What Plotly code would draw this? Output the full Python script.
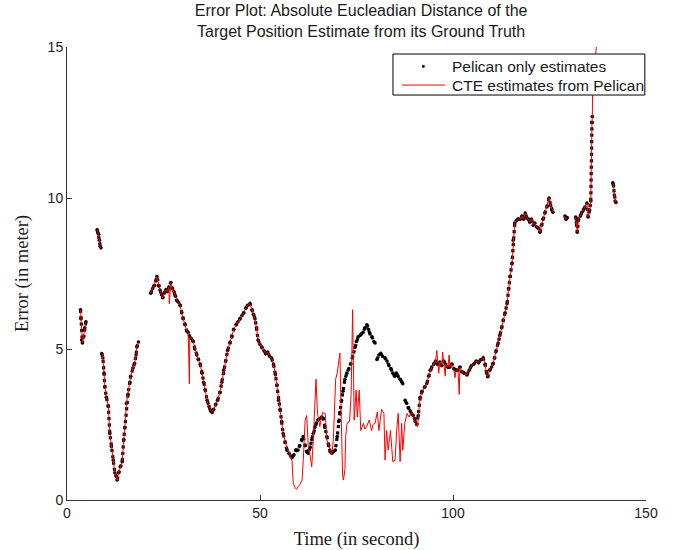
import plotly.graph_objects as go

# ---------------- data ----------------
# Pelican-only estimates (black dots); None marks a gap in the record
pel_t = [3.5, 3.6, 3.8, 4.0, 4.3, 4.6, 4.9, None,
         7.8, 8.0, 8.2, 8.4, 8.6, 8.8, None,
         9.0, 9.3, 9.6, 9.8, 10.2, 10.7, 11.1, 11.5, 12.0, 12.4, 12.8, 13.0, 13.4, 13.8, 14.3,
         14.7, 15.0, 15.4, 15.8, 16.3, 16.5, 17.1, 17.5, 17.9, 18.1, 18.5, None,
         21.7, 22.2, 22.7, 23.0, 23.3, 23.7, 24.1, 24.5, 24.8, 25.2, 25.6, 26.0, 26.4, 26.9,
         27.3, 27.7, 28.1, 28.5, 28.9, 29.3, 29.7, 30.1, 30.6, 31.0, 31.4, 31.8, 32.2, 32.7,
         33.1, 33.6, 34.0, 34.5, 35.0, 35.4, 35.8, 36.3, 36.8, 37.2, 37.6, 38.0, 38.5, 39.0,
         39.6, 40.1, 40.6, 41.1, 41.6, 42.2, 42.7, 43.2, 43.8, 44.3, 44.8, 45.3, 45.8, 46.3,
         46.8, 47.4, 47.9, 48.3, 48.7, 49.1, 49.5, 50.0, 50.5, 51.0, 51.5, 52.0, 52.5, 53.0,
         53.5, 54.0, 54.4, 54.8, 55.2, 55.6, 56.0, 56.5, 57.0, 57.5, 58.0, 58.3, 58.8, 59.3,
         59.8, 60.3, 60.8, 61.2, 61.7, 62.1, 62.5, 63.0, 63.4, 63.8, 64.2, 64.6, 65.0, 65.5,
         66.0, 66.4, 66.8, 67.3, 67.8, 68.2, 68.6, 69.0, 69.5, 70.0, 70.4, 70.7, 71.1, 71.5,
         72.0, 72.5, 73.0, 73.5, 74.0, 74.6, 75.0, 75.4, 75.9, 76.3, 76.7, 77.2, 77.7, 78.1,
         78.5, 79.0, 79.5, 79.8, None,
         80.3, 80.8, 81.3, 81.8, 82.4, 82.9, 83.4, 83.9, 84.4, 84.9, 85.3, 85.8, 86.3, 86.8,
         87.0, None,
         87.6, 88.0, 88.4, 88.9, 89.3, 89.7, 90.2, 90.6, 91.0, 91.5, 92.0, 92.7, 93.2, 93.7,
         94.1, 94.5, 95.0, 95.5, 96.0, 96.6, 97.1, 97.6, 98.1, 98.7, 99.2, 99.7, 100.2, 100.8,
         101.3, 101.8, 102.3, 102.9, 103.6, 104.2, 104.8, 105.4, 106.0, 106.6, 107.2, 107.8,
         108.3, 108.7, 109.0, 109.5, 110.0, 110.4, 110.8, 111.2, 111.7, 112.1, 112.6, 113.0,
         113.5, 114.0, 114.4, 114.8, 115.3, 115.6, 116.0, 116.4, 116.9, 117.4, 117.9, 118.3,
         118.7, 119.1, 119.5, 119.9, 120.3, 120.8, 121.2, 121.6, 122.1, 122.5, 122.9, 123.3,
         123.8, 124.3, 124.9, 125.3, 125.6, 125.9, None,
         129.0, 129.3, 129.6, None,
         131.8, 132.0, 132.2, 132.5, 133.0, 133.4, 133.8, 134.2, 134.7, 135.0, 135.4, 135.7,
         136.0, 136.1, None,
         141.4, 141.6, 141.8, 142.0, 142.2]
pel_e = [6.3, 6.0, 5.3, 5.2, 5.4, 5.7, 5.9, None,
         8.95, 8.85, 8.8, 8.6, 8.4, 8.35, None,
         4.85, 4.7, 4.2, 3.75, 3.4, 3.1, 2.2, 1.77, 1.32, 0.9, 0.77, 0.66, 0.9, 1.1, 1.27,
         2.0, 2.4, 3.2, 3.5, 3.9, 4.1, 4.37, 4.53, 4.8, 5.07, 5.23, None,
         6.85, 7.0, 7.1, 7.25, 7.4, 7.1, 6.95, 6.8, 6.7, 6.85, 6.95, 6.9, 7.05, 7.2,
         7.0, 6.9, 6.75, 6.6, 6.55, 6.45, 6.2, 6.0, 5.8, 5.6, 5.55, 5.4, 5.35, 5.25,
         5.0, 4.8, 4.65, 4.5, 4.2, 3.9, 3.65, 3.3, 3.1, 2.95, 2.9, 3.0, 3.15, 3.3,
         3.55, 3.9, 4.3, 4.6, 4.95, 5.2, 5.4, 5.65, 5.8, 5.9, 6.0, 6.1, 6.2, 6.35,
         6.45, 6.5, 6.3, 6.15, 6.0, 5.7, 5.3, 5.15, 5.05, 4.95, 4.85, 4.9, 4.75, 4.7,
         4.5, 4.15, 3.8, 3.3, 3.0, 2.6, 2.2, 1.9, 1.65, 1.55, 1.45, 1.4, 1.5, 1.65,
         1.65, 1.8, 2.0, 2.1, 1.8, 1.6, 1.55, 1.75, 2.0, 2.2, 2.4, 2.55, 2.65, 2.7,
         2.75, 2.7, 2.4, 2.1, 1.8, 1.6, 1.55, 1.6, 1.65, 2.1, 2.6, 2.9, 3.3, 3.6,
         4.0, 4.2, 4.35, 4.5, 4.75, 5.05, 5.25, 5.4, 5.45, 5.5, 5.55, 5.7, 5.8, 5.65,
         5.5, 5.4, 5.25, 5.2, None,
         4.65, 4.8, 4.85, 4.75, 4.7, 4.6, 4.45, 4.35, 4.2, 4.1, 4.2, 4.08, 4.0, 3.9,
         3.85, None,
         3.3, 3.2, 3.05, 2.95, 2.85, 2.8, 2.6, 2.5, 2.8, 3.4, 3.6, 3.75, 3.85, 4.1,
         4.3, 4.4, 4.5, 4.6, 4.5, 4.57, 4.45, 4.6, 4.5, 4.4, 4.4, 4.5, 4.35, 4.3,
         4.3, 4.4, 4.25, 4.2, 4.14, 4.3, 4.45, 4.5, 4.6, 4.55, 4.65, 4.7,
         4.5, 4.2, 4.08, 4.3, 4.4, 4.53, 4.7, 4.95, 5.2, 5.45, 5.7, 5.96,
         6.2, 6.5, 7.0, 7.4, 7.85, 8.6, 9.17, 9.25, 9.3, 9.3, 9.4, 9.3,
         9.5, 9.35, 9.3, 9.2, 9.3, 9.1, 9.17, 9.05, 9.0, 8.87, 9.1, 9.3,
         9.5, 9.7, 10.0, 9.75, 9.6, 9.53, None,
         9.4, 9.3, 9.35, None,
         9.37, 9.2, 8.87, 9.3, 9.4, 9.53, 9.6, 9.7, 9.83, 9.37, 9.6, 9.9,
         12.5, 12.7, None,
         10.5, 10.4, 10.1, 9.9, 9.85]

# CTE estimates (red line): where they diverge from the Pelican-only track
cte_mid_t = [56.5, 57.0, 57.5, 58.0, 58.3, 58.6, 59.1, 59.5, 59.8, 60.3, 60.9, 61.2, 61.7,
             62.1, 62.5, 62.9, 63.4, 63.8, 64.2, 64.5, 64.9, 65.5, 66.2, 66.9, 67.3, 67.8,
             68.2, 68.6, 69.0, 69.3, 69.6, 70.0, 70.3, 70.7, 71.0, 71.2, 71.4, 71.6, 72.0,
             72.2, 72.5, 72.8, 73.2, 73.6, 74.0, 74.4, 74.9, 75.2, 75.7, 76.1, 76.8, 77.2,
             77.6, 78.3, 78.9, 79.3, 79.8, 80.4, 80.8, 81.5, 82.1, 82.4, 82.8, 83.2, 83.8,
             84.4, 85.0, 85.4, 85.8, 86.3, 86.7, 87.0, 87.5, 88.1, 88.6, 89.3, 90.2, 90.8]
cte_mid_e = [1.9, 1.7, 1.6, 1.4, 1.3, 0.56, 0.4, 0.35, 0.43, 0.5, 0.66, 1.3, 2.65,
             2.8, 1.77, 1.55, 1.1, 2.0, 3.0, 4.0, 2.87, 2.43, 2.9, 2.87, 2.0, 1.8,
             1.65, 1.5, 2.0, 3.0, 4.0, 4.2, 4.47, 4.87, 3.0, 1.32, 0.8, 0.66, 1.0,
             2.1, 2.5, 2.58, 2.6, 3.5, 6.3, 2.65, 3.64, 2.75, 3.64, 2.3, 2.54, 2.35,
             2.43, 2.65, 2.3, 2.5, 2.54, 2.92, 2.3, 3.0, 2.87, 1.32, 2.3, 1.65, 2.3,
             1.27, 1.32, 2.3, 2.87, 1.27, 2.54, 1.65, 2.54, 2.87, 2.75, 2.9, 2.54, 2.43]
mid_lo, mid_hi = 56.3, 91.2

# extra CTE-only excursions on the shared stretches
cte_spike_t = [23.5, 26.5, 31.7, 95.8, 96.3, 97.3, 98.0, 99.0, 100.5, 101.6, 136.15, 137.3]
cte_spike_e = [7.3, 6.5, 3.85, 4.95, 4.2, 4.9, 4.1, 4.8, 4.05, 3.5, 13.4, 15.3]

# ---------------- build the red track ----------------
cte_t, cte_e = [], []
inserted = False
prev = None
for t, e in zip(pel_t, pel_e):
    if t is None:
        if prev is not None and mid_lo < prev < mid_hi:
            continue
        cte_t.append(None); cte_e.append(None)
        prev = None
        continue
    if mid_lo < t < mid_hi:
        if not inserted:
            cte_t.extend(cte_mid_t); cte_e.extend(cte_mid_e)
            inserted = True
        prev = t
        continue
    cte_t.append(t); cte_e.append(e)
    prev = t


def next_valid(seq, i):
    for v in seq[i:]:
        if v is not None:
            return v
    return None


for st, se in zip(cte_spike_t, cte_spike_e):
    for i in range(1, len(cte_t) + 1):
        a = cte_t[i - 1]
        b = cte_t[i] if i < len(cte_t) else None
        if a is None or a >= st:
            continue
        if b is not None and b > st:
            cte_t.insert(i, st); cte_e.insert(i, se)
            break
        if b is None:
            nv = next_valid(cte_t, i)
            if nv is None or nv > st:
                cte_t.insert(i, st); cte_e.insert(i, se)
                break

# ---------------- figure ----------------
sans = "Liberation Sans, Arial, Helvetica, sans-serif"
serif = "Liberation Serif, Times New Roman, serif"
ink = "#1a1a1a"

fig = go.Figure()
# dense band of dots along the Pelican-only track
fig.add_trace(go.Scatter(
    x=pel_t, y=pel_e, mode="lines", showlegend=False, hoverinfo="skip",
    line=dict(color="black", width=3.2, dash="dot"), connectgaps=False))
fig.add_trace(go.Scatter(
    x=pel_t, y=pel_e, mode="markers", name="Pelican only estimates", showlegend=False,
    marker=dict(color="black", size=3.6, line=dict(width=0))))
fig.add_trace(go.Scatter(
    x=cte_t, y=cte_e, mode="lines", name="CTE estimates from Pelican", showlegend=False,
    line=dict(color="#ff0000", width=1), connectgaps=False))

# legend drawn in paper coordinates (box, symbols, labels)
lx0, lx1, ly0, ly1 = 0.563, 0.998, 0.894, 0.9845
row1, row2 = 0.957, 0.916
fig.add_shape(type="rect", xref="paper", yref="paper", x0=lx0, x1=lx1, y0=ly0, y1=ly1,
              line=dict(color="black", width=1), fillcolor="white", layer="above")
fig.add_shape(type="line", xref="paper", yref="paper", x0=0.5786, x1=0.6528, y0=row2, y1=row2,
              line=dict(color="#ff0000", width=1), layer="above")
fig.add_shape(type="circle", xref="paper", yref="paper",
              x0=0.6155 - 0.0025, x1=0.6155 + 0.0025, y0=row1 - 0.003, y1=row1 + 0.003,
              line=dict(width=0), fillcolor="black", layer="above")
for txt, yy in [("Pelican only estimates", row1), ("CTE estimates from Pelican", row2)]:
    fig.add_annotation(text=txt, xref="paper", yref="paper", x=0.6615, y=yy,
                       xanchor="left", yanchor="middle", showarrow=False,
                       font=dict(family=sans, size=15.5, color=ink))

fig.update_layout(
    width=675, height=550,
    margin=dict(l=67, r=29, t=47, b=50, autoexpand=False),
    plot_bgcolor="white", paper_bgcolor="white",
    title=dict(
        text="Error Plot: Absolute Eucleadian Distance of the<br>Target Position Estimate from its Ground Truth",
        x=0.535, xanchor="center", y=0.9705, yanchor="top",
        font=dict(family=sans, size=16, color=ink)),
    showlegend=False,
)
fig.update_xaxes(
    range=[0, 150], tickvals=[0, 50, 100, 150], ticks="inside", ticklen=5,
    tickcolor="#333", showline=True, linecolor="#333", linewidth=1,
    showgrid=False, zeroline=False, mirror=False, automargin=False,
    tickfont=dict(family=sans, size=14, color=ink),
    title=dict(text="Time (in second)", font=dict(family=serif, size=18.5, color=ink), standoff=12))
fig.update_yaxes(
    range=[0, 15], tickvals=[0, 5, 10, 15], ticks="inside", ticklen=5,
    tickcolor="#333", showline=True, linecolor="#333", linewidth=1,
    showgrid=False, zeroline=False, mirror=False, automargin=False,
    tickfont=dict(family=sans, size=14, color=ink),
    title=dict(text="Error (in meter)", font=dict(family=serif, size=18.5, color=ink), standoff=14))

fig.write_html("out.html")
